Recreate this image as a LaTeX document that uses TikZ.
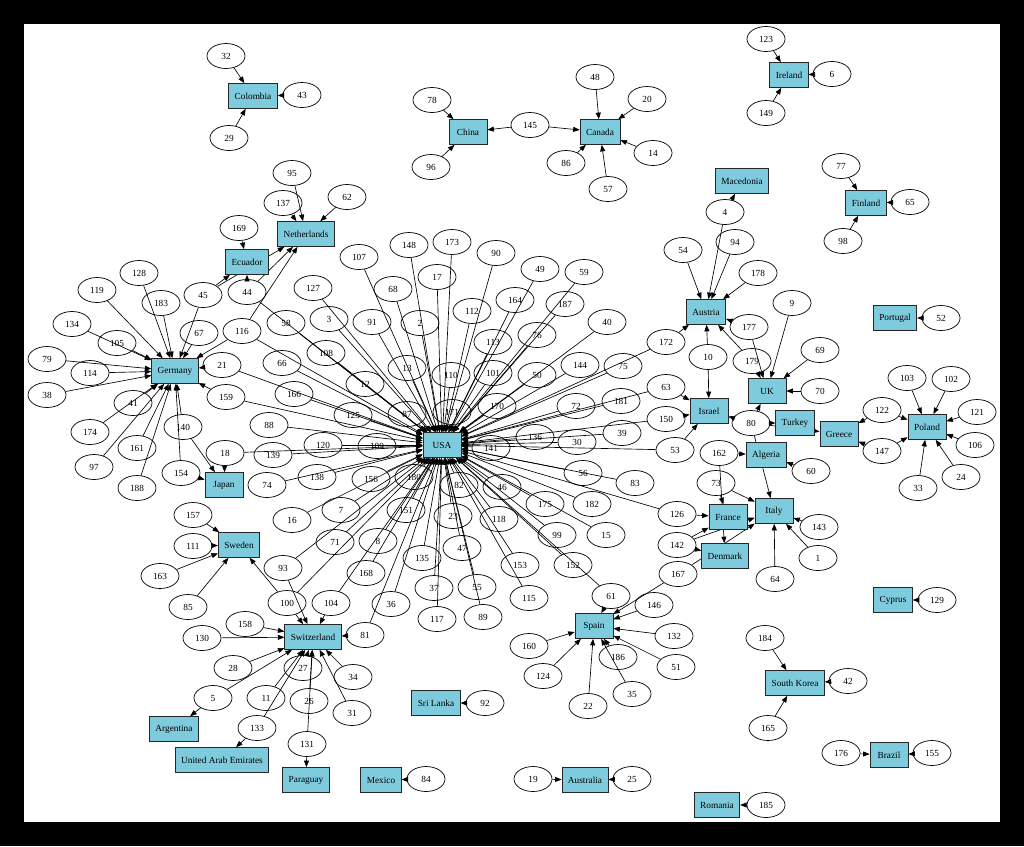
\documentclass[tikz,border=0pt]{standalone}
\usepackage{fontspec}
\setmainfont{Liberation Serif}
\usetikzlibrary{shapes.geometric,arrows.meta}
\pgfdeclarelayer{framelayer}
\pgfdeclarelayer{edgelayer}
\pgfsetlayers{framelayer,edgelayer,main}
\definecolor{boxfill}{RGB}{126,203,221}
\begin{document}
\begin{tikzpicture}[x=1pt,y=-1pt,
 num/.style={ellipse,draw,line width=0.7pt,minimum width=38pt,minimum height=25pt,inner sep=0pt,font=\fontsize{9.3}{10}\selectfont},
 country/.style={rectangle,draw=black!85,line width=0.7pt,fill=boxfill,minimum width=38pt,minimum height=25pt,inner xsep=6pt,inner ysep=2pt,font=\fontsize{9.3}{10}\selectfont},
 edge/.style={line width=0.65pt,-{Triangle[length=6.5pt,width=5pt]}}]
\useasboundingbox (0,0) rectangle (1024,846);
\begin{pgfonlayer}{framelayer}
\fill[black] (0,0) rectangle (1024,846);
\fill[white] (24,24) rectangle (1000,822);
\end{pgfonlayer}
% countries
\foreach \nm/\x/\y/\lab in {USA/442/445/USA, Germany/175/371/Germany, Japan/224/485/Japan, Sweden/239/545/Sweden,
 Switzerland/313/637/Switzerland, Argentina/174/729/Argentina, UAE/222/760/United Arab Emirates,
 Paraguay/306/780/Paraguay, Mexico/381/780/Mexico, SriLanka/436/703/Sri Lanka, Australia/585/780/Australia,
 Romania/717/805/Romania, Spain/594/626/Spain, SouthKorea/795/683/South Korea, Brazil/889/755/Brazil,
 Cyprus/893/600/Cyprus, Italy/774/511/Italy, France/728/517/France, Denmark/725/556/Denmark,
 Algeria/766/455/Algeria, Israel/709/411/Israel, Turkey/795/423/Turkey, Greece/839/434/Greece,
 Poland/927/427/Poland, Portugal/895/318/Portugal, UK/767/391/UK, Austria/706/312/Austria,
 Macedonia/742/181/Macedonia, Finland/866/203/Finland, Ireland/789/75/Ireland, Canada/600/132/Canada,
 China/468/132/China, Colombia/253/96/Colombia, Netherlands/306/234/Netherlands, Ecuador/247/262/Ecuador}
 {\node[country] (\nm) at (\x,\y) {\lab};}
% numbers
\foreach \n/\x/\y in {32/226/56, 29/229/138, 43/302/95, 78/432/100, 96/431/167, 145/530/125,
 48/595/77, 20/647/99, 14/653/153, 86/566/163, 57/608/189, 123/766/39, 6/832/74, 149/766/113,
 77/841/166, 65/910/202, 98/843/241, 4/725/212, 94/735/242, 54/683/250, 178/758/273,
 177/749/327, 179/752/361, 172/666/342, 10/708/357, 9/792/303, 69/820/350, 70/820/391,
 63/666/387, 150/666/419, 53/675/450, 80/751/423, 122/882/410, 147/882/451,
 103/907/378, 102/951/379, 121/977/412, 106/975/445, 24/961/477, 33/918/488, 52/941/318,
 162/719/453, 60/811/471, 73/716/483, 126/677/514, 142/677/545, 167/678/574,
 143/819/527, 1/818/558, 64/775/579, 61/611/596, 146/654/605, 132/674/636, 51/676/667,
 186/618/657, 35/632/694, 22/588/706, 124/543/676, 160/529/646, 19/533/779, 25/632/779,
 185/766/805, 129/937/600, 184/765/638, 42/848/681, 165/768/728, 176/841/753, 155/932/753,
 92/485/703, 84/426/779, 131/307/744, 81/365/635, 104/331/603, 100/287/603, 93/283/568,
 34/353/677, 31/352/713, 26/309/701, 27/303/668, 11/266/698, 28/233/668, 158/245/624,
 130/202/638, 133/257/728, 5/213/698, 163/160/576, 85/188/607, 157/193/515, 111/193/546,
 18/225/453, 154/181/473, 140/183/427, 128/139/273, 119/97/290, 183/161/303, 45/203/295,
 67/199/333, 116/242/331, 134/72/324, 105/117/343, 79/47/359, 114/90/373, 38/47/395,
 41/133/403, 174/90/432, 97/94/467, 161/137/448, 188/137/488, 21/222/365, 159/226/397,
 44/247/292, 169/239/228, 95/292/173, 137/283/203, 62/347/197,
 127/313/288, 68/393/289, 107/359/257, 148/409/245, 173/452/242, 17/437/277, 90/496/253,
 164/515/300, 49/540/269, 59/584/272, 187/565/304, 112/472/311, 3/329/319, 91/372/322,
 2/420/323, 58/286/323, 108/326/353, 113/493/342, 76/537/335, 40/607/322, 66/282/363,
 13/407/368, 110/451/375, 101/493/373, 50/537/375, 144/580/365, 75/623/366, 12/365/384,
 166/294/394, 125/353/415, 87/407/414, 171/452/412, 170/497/406, 72/576/406, 181/621/401,
 88/269/425, 120/323/445, 109/377/446, 139/273/455, 136/535/437, 141/491/448, 30/577/442,
 39/622/433, 74/267/485, 138/317/477, 156/371/479, 180/414/477, 82/459/485, 46/502/487,
 56/583/473, 83/635/483, 16/292/520, 7/341/510, 151/406/510, 23/453/516, 118/499/519,
 175/545/504, 182/592/504, 15/606/535, 99/557/535, 71/335/542, 8/378/541, 47/462/548,
 135/422/558, 153/520/565, 152/573/565, 115/529/598, 37/434/588, 117/437/619, 55/477/587,
 89/483/617, 36/391/604, 168/366/573}
 {\node[num] (n\n) at (\x,\y) {\n};}
\begin{pgfonlayer}{edgelayer}
\foreach \a/\b in {32/Colombia, 29/Colombia, 43/Colombia, 78/China, 96/China, 145/China, 145/Canada,
 48/Canada, 20/Canada, 14/Canada, 86/Canada, 57/Canada, 123/Ireland, 6/Ireland, 149/Ireland,
 77/Finland, 65/Finland, 98/Finland, 4/Macedonia, 4/Austria, 94/Austria, 54/Austria, 178/Austria,
 177/Austria, 177/UK, 179/Austria, 179/UK, 172/Austria, 172/USA, 10/Austria, 10/Israel,
 9/UK, 69/UK, 70/UK, 63/Israel, 63/USA, 150/Israel, 150/USA, 53/Israel, 53/USA,
 80/Israel, 80/UK, 80/Italy, 80/Turkey, 80/Greece, 122/Greece, 122/Poland, 147/Greece, 147/Poland,
 103/Poland, 102/Poland, 121/Poland, 106/Poland, 24/Poland, 33/Poland, 52/Portugal,
 162/Algeria, 162/Denmark, 60/Algeria, 73/France, 73/Italy, 126/France, 126/USA,
 142/France, 142/Denmark, 142/Italy, 167/Spain, 167/Italy, 143/Italy, 1/Italy, 64/Italy,
 61/Spain, 61/USA, 146/Spain, 132/Spain, 51/Spain, 186/Spain, 35/Spain, 22/Spain, 124/Spain, 160/Spain,
 19/Australia, 25/Australia, 185/Romania, 129/Cyprus, 184/SouthKorea, 42/SouthKorea, 165/SouthKorea,
 176/Brazil, 155/Brazil, 92/SriLanka, 84/Mexico, 131/Paraguay, 131/Switzerland,
 81/Switzerland, 81/USA, 104/Switzerland, 104/USA, 100/Switzerland, 100/Sweden, 100/USA,
 93/Switzerland, 93/USA, 34/Switzerland, 31/Switzerland, 26/Switzerland, 27/Switzerland,
 11/Switzerland, 28/Switzerland, 158/Switzerland, 130/Switzerland, 133/UAE, 133/Switzerland,
 5/Argentina, 5/Switzerland, 163/Sweden, 85/Sweden, 157/Sweden, 111/Sweden,
 18/Japan, 18/USA, 154/Japan, 154/Germany, 140/Japan, 140/Germany,
 128/Germany, 119/Germany, 183/Germany, 45/Germany, 45/Ecuador, 45/Netherlands, 67/Germany,
 116/Germany, 116/Netherlands, 116/USA, 134/Germany, 105/Germany, 79/Germany, 114/Germany,
 38/Germany, 41/Germany, 174/Germany, 97/Germany, 161/Germany, 188/Germany,
 21/Germany, 21/USA, 159/Germany, 159/USA, 44/Ecuador, 44/Netherlands, 44/USA,
 169/Ecuador, 95/Netherlands, 137/Netherlands, 62/Netherlands}
 {\draw[edge] (n\a) -- (\b);}
\foreach \a in {127, 68, 107, 148, 173, 17, 90, 164, 49, 59, 187, 112, 3, 91, 2, 58, 108, 113, 76, 40,
 66, 13, 110, 101, 50, 144, 75, 12, 166, 125, 87, 171, 170, 72, 181, 88, 120, 109, 139, 136, 141,
 30, 39, 74, 138, 156, 180, 82, 46, 56, 83, 16, 7, 151, 23, 118, 175, 182, 15, 99, 71, 8, 47,
 135, 153, 152, 115, 37, 117, 55, 89, 36, 168}
 {\draw[edge] (n\a) -- (USA);}
\end{pgfonlayer}
\end{tikzpicture}
\end{document}
